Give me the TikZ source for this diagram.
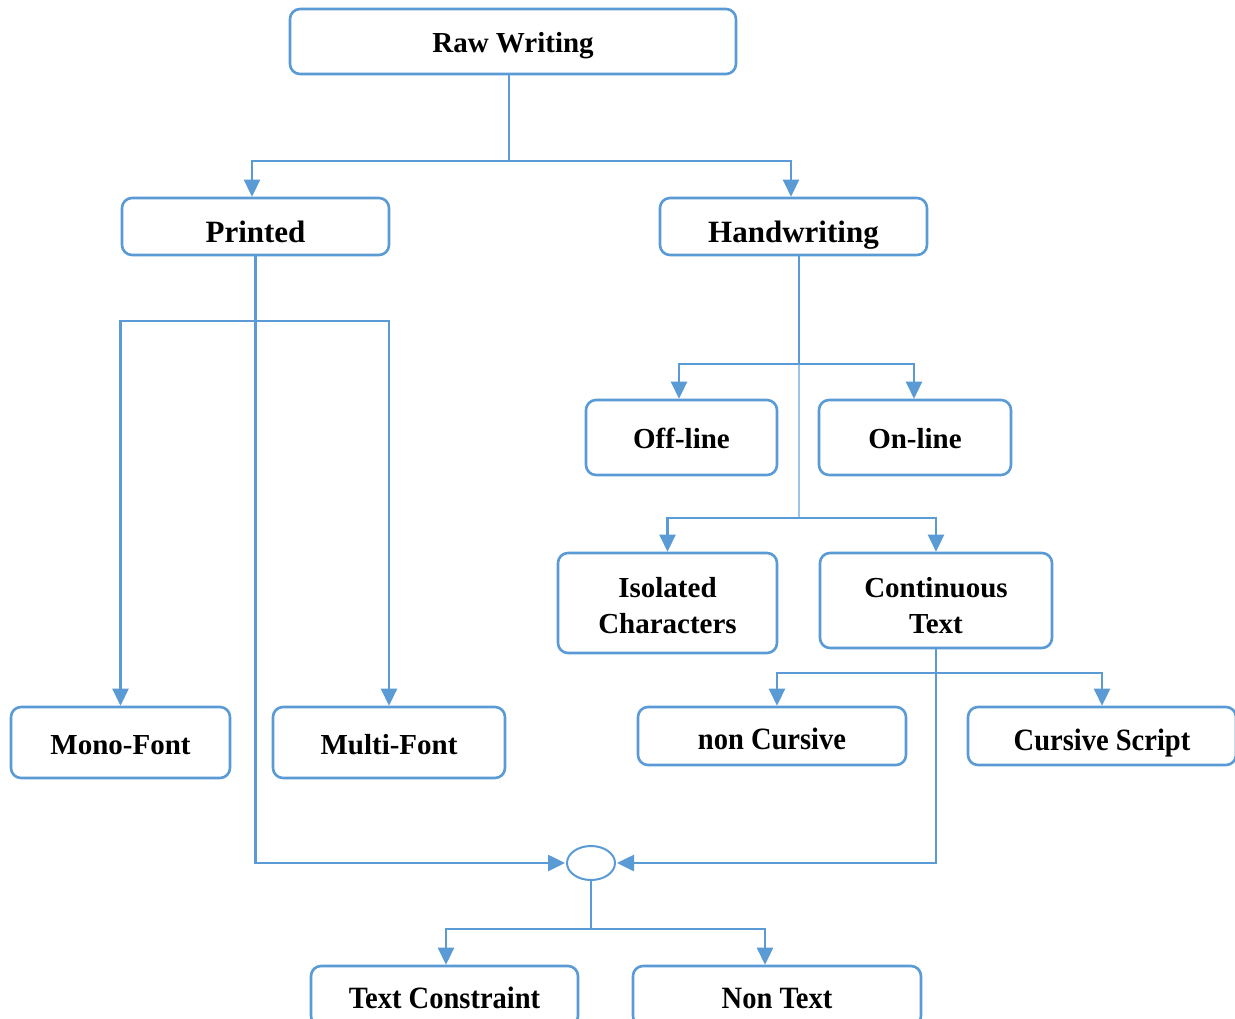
\documentclass[tikz,border=0pt]{standalone}
\usepackage{fontspec}
\setmainfont{Liberation Serif}
\usetikzlibrary{arrows.meta,shapes.geometric}
\definecolor{blu}{HTML}{5B9BD5}
\definecolor{blulight}{HTML}{9DC3E6}
% box label: centred lines, set a little below the box centre
\newcommand\lbl[2][-4pt]{\raisebox{#1}[\height][\depth]{\begin{tabular}{@{}c@{}}#2\end{tabular}}}
\begin{document}
\begin{tikzpicture}[x=1pt,y=-1pt,
  box/.style={draw=blu, line width=2.6pt, rounded corners=10pt, fill=white,
    inner sep=0pt, align=center,
    font=\bfseries\fontsize{29}{36}\selectfont},
  narrow/.style={box, font=\bfseries\fontsize{31}{36}\selectfont},
  conn/.style={draw=blu, line width=2.6pt},
  arr/.style={conn, -{Triangle[length=17pt,width=16pt]}}]
\useasboundingbox (0,0) rectangle (1235,1019);
\clip (0,0) rectangle (1235,1019);

% boxes
\node[box, minimum width=446pt, minimum height=65pt] (raw) at (513,41.5) {\lbl{Raw Writing}};
\node[narrow, minimum width=267pt, minimum height=57pt] (printed) at (255.5,226.5) {\lbl[-9pt]{Printed}};
\node[narrow, minimum width=267pt, minimum height=57pt] (hand) at (793.5,226.5) {\lbl[-9pt]{Handwriting}};
\node[box, minimum width=191pt, minimum height=75pt] (off) at (681.5,437.5) {\lbl[-4pt]{Off-line}};
\node[box, minimum width=192pt, minimum height=75pt] (on) at (915,437.5) {\lbl[-4pt]{On-line}};
\node[box, minimum width=219pt, minimum height=100pt] (iso) at (667.5,603) {\lbl[-5pt]{Isolated\\Characters}};
\node[box, minimum width=232pt, minimum height=95pt] (cont) at (936,600.5) {\lbl[-8pt]{Continuous\\Text}};
\node[box, minimum width=219pt, minimum height=71pt] (mono) at (120.5,742.5) {\lbl[-5pt]{Mono-Font}};
\node[box, minimum width=232pt, minimum height=71pt] (multi) at (389,742.5) {\lbl[-5pt]{Multi-Font}};
\node[narrow, minimum width=268pt, minimum height=58pt] (noncur) at (772,736) {\lbl[-6pt]{\scalebox{0.92}[1]{non Cursive}}};
\node[narrow, minimum width=268pt, minimum height=58pt] (cur) at (1102,736) {\lbl[-7pt]{\scalebox{0.92}[1]{Cursive Script}}};
\node[draw=blu, line width=2pt, ellipse, minimum width=48pt, minimum height=34pt, inner sep=0pt] (hub) at (591,863) {};
\node[narrow, minimum width=267pt, minimum height=60pt] (tc) at (444.5,996) {\lbl[-5pt]{\scalebox{0.92}[1]{Text Constraint}}};
\node[narrow, minimum width=288pt, minimum height=60pt] (nt) at (777,996) {\lbl[-5pt]{\scalebox{0.92}[1]{Non Text}}};

% Raw Writing splits into Printed and Handwriting
\coordinate (j1) at (509,161);
\draw[conn] (raw.south -| j1) -- (j1);
\draw[arr] (j1) -| ([xshift=-3.5pt]printed.north);
\draw[arr] (j1) -| ([xshift=-2.5pt]hand.north);

% Printed trunk, its font branches, and its way down to the junction
\coordinate (j2) at (256,321);
\draw[arr] (printed.south) |- ([xshift=-1pt]hub.west);
\draw[arr] (j2) -| (mono.north);
\draw[arr] (j2) -| (multi.north);

% Handwriting trunk
\coordinate (j3) at (799,364);
\coordinate (j4) at (799,518);
\draw[conn] (hand.south -| j3) -- (j3);
\draw[draw=blulight, line width=2pt] (j3) -- (j4);
\draw[arr] (j3) -| ([xshift=-2.5pt]off.north);
\draw[arr] (j3) -| ([xshift=-1pt]on.north);
\draw[arr] (j4) -| (iso.north);
\draw[arr] (j4) -| (cont.north);

% Continuous Text branches and its way down to the junction
\coordinate (j5) at (936,673);
\draw[arr] (cont.south) |- ([xshift=1pt]hub.east);
\draw[arr] (j5) -| ([xshift=5pt]noncur.north);
\draw[arr] (j5) -| (cur.north);

% junction splits into the two text classes
\coordinate (j6) at (591,929);
\draw[conn] (hub.south) -- (j6);
\draw[arr] (j6) -| ([xshift=1.5pt]tc.north);
\draw[arr] (j6) -| ([xshift=-12pt]nt.north);
\end{tikzpicture}
\end{document}
